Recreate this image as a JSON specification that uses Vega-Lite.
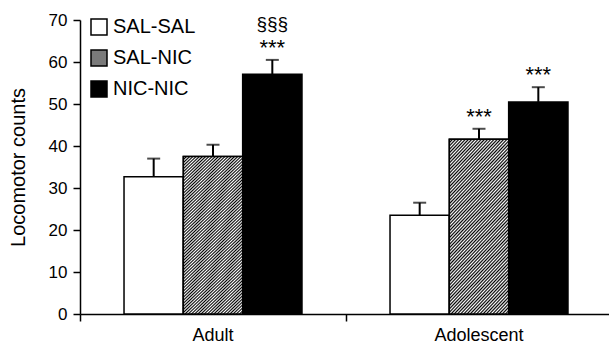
{
  "$schema": "https://vega.github.io/schema/vega-lite/v6.json",
  "width": 532,
  "height": 294,
  "autosize": {"type": "none"},
  "padding": {"left": 80, "top": 20, "right": 0, "bottom": 34},
  "config": {
    "view": {"stroke": null},
    "font": "Liberation Sans",
    "axis": {"labelColor": "#000", "titleColor": "#000", "domainColor": "#000", "tickColor": "#000", "grid": false, "domainWidth": 1.5, "tickWidth": 1.5},
    "legend": {"labelColor": "#000"}
  },
  "data": {
    "values": [
      {"age": "Adult", "group": "SAL-SAL", "value": 32.7, "upper": 37.0, "sig": "", "sig2": ""},
      {"age": "Adult", "group": "SAL-NIC", "value": 37.5, "upper": 40.3, "sig": "", "sig2": ""},
      {"age": "Adult", "group": "NIC-NIC", "value": 57.1, "upper": 60.5, "sig": "***", "sig2": "§§§"},
      {"age": "Adolescent", "group": "SAL-SAL", "value": 23.5, "upper": 26.5, "sig": "", "sig2": ""},
      {"age": "Adolescent", "group": "SAL-NIC", "value": 41.6, "upper": 44.1, "sig": "***", "sig2": ""},
      {"age": "Adolescent", "group": "NIC-NIC", "value": 50.5, "upper": 54.0, "sig": "***", "sig2": ""}
    ]
  },
  "encoding": {
    "x": {
      "field": "age", "type": "nominal", "sort": ["Adult", "Adolescent"],
      "scale": {"paddingInner": 0.331, "paddingOuter": 0.1655},
      "axis": {"title": null, "labelAngle": 0, "labelFontSize": 18, "tickSize": 7, "labelPadding": 5, "bandPosition": -0.247}
    },
    "xOffset": {"field": "group", "type": "nominal", "sort": ["SAL-SAL", "SAL-NIC", "NIC-NIC"], "scale": {"paddingInner": 0, "paddingOuter": 0}}
  },
  "layer": [
    {
      "mark": {"type": "rule", "stroke": "#000", "strokeWidth": 2},
      "encoding": {
        "y": {"field": "value", "type": "quantitative"},
        "y2": {"field": "upper"}
      }
    },
    {
      "mark": {"type": "tick", "orient": "horizontal", "color": "#000", "size": 13, "thickness": 2},
      "encoding": {
        "y": {"field": "upper", "type": "quantitative"}
      }
    },
    {
      "mark": {"type": "bar", "stroke": "#000", "strokeWidth": 1.5},
      "encoding": {
        "y": {
          "field": "value", "type": "quantitative",
          "scale": {"domain": [0, 70], "nice": false},
          "axis": {"values": [0, 10, 20, 30, 40, 50, 60, 70], "title": "Locomotor counts", "titleFontSize": 20, "titleFontWeight": "normal", "titlePadding": 20, "labelFontSize": 17, "tickSize": 7, "labelPadding": 6}
        },
        "fill": {
          "field": "group", "type": "nominal",
          "sort": ["SAL-SAL", "SAL-NIC", "NIC-NIC"],
          "scale": {"domain": ["SAL-SAL", "SAL-NIC", "NIC-NIC"], "range": ["#ffffff", "#7a7a7a", "#000000"]},
          "legend": {
            "title": null, "orient": "none", "legendX": 9, "legendY": -3,
            "symbolType": "square", "symbolSize": 256, "symbolStrokeColor": "#000", "symbolStrokeWidth": 1.5,
            "labelFontSize": 20, "labelOffset": 4, "rowPadding": 9
          }
        }
      }
    },
    {
      "transform": [{"filter": "datum.group == 'SAL-NIC'"}],
      "mark": {"type": "bar", "stroke": "#000", "strokeWidth": 1.5,
        "fill": {"gradient": "linear", "x1": 0, "y1": 0, "x2": 0.433, "y2": 1.204, "stops": [
          {"offset": 0, "color": "#000"}, {"offset": 0.0071, "color": "#fff"}, {"offset": 0.0143, "color": "#000"}, {"offset": 0.0214, "color": "#fff"}, {"offset": 0.0286, "color": "#000"}, {"offset": 0.0357, "color": "#fff"}, {"offset": 0.0429, "color": "#000"}, {"offset": 0.05, "color": "#fff"}, {"offset": 0.0571, "color": "#000"}, {"offset": 0.0643, "color": "#fff"}, {"offset": 0.0714, "color": "#000"}, {"offset": 0.0786, "color": "#fff"}, {"offset": 0.0857, "color": "#000"}, {"offset": 0.0929, "color": "#fff"},
          {"offset": 0.1, "color": "#000"}, {"offset": 0.1071, "color": "#fff"}, {"offset": 0.1143, "color": "#000"}, {"offset": 0.1214, "color": "#fff"}, {"offset": 0.1286, "color": "#000"}, {"offset": 0.1357, "color": "#fff"}, {"offset": 0.1429, "color": "#000"}, {"offset": 0.15, "color": "#fff"}, {"offset": 0.1571, "color": "#000"}, {"offset": 0.1643, "color": "#fff"}, {"offset": 0.1714, "color": "#000"}, {"offset": 0.1786, "color": "#fff"}, {"offset": 0.1857, "color": "#000"}, {"offset": 0.1929, "color": "#fff"},
          {"offset": 0.2, "color": "#000"}, {"offset": 0.2071, "color": "#fff"}, {"offset": 0.2143, "color": "#000"}, {"offset": 0.2214, "color": "#fff"}, {"offset": 0.2286, "color": "#000"}, {"offset": 0.2357, "color": "#fff"}, {"offset": 0.2429, "color": "#000"}, {"offset": 0.25, "color": "#fff"}, {"offset": 0.2571, "color": "#000"}, {"offset": 0.2643, "color": "#fff"}, {"offset": 0.2714, "color": "#000"}, {"offset": 0.2786, "color": "#fff"}, {"offset": 0.2857, "color": "#000"}, {"offset": 0.2929, "color": "#fff"},
          {"offset": 0.3, "color": "#000"}, {"offset": 0.3071, "color": "#fff"}, {"offset": 0.3143, "color": "#000"}, {"offset": 0.3214, "color": "#fff"}, {"offset": 0.3286, "color": "#000"}, {"offset": 0.3357, "color": "#fff"}, {"offset": 0.3429, "color": "#000"}, {"offset": 0.35, "color": "#fff"}, {"offset": 0.3571, "color": "#000"}, {"offset": 0.3643, "color": "#fff"}, {"offset": 0.3714, "color": "#000"}, {"offset": 0.3786, "color": "#fff"}, {"offset": 0.3857, "color": "#000"}, {"offset": 0.3929, "color": "#fff"},
          {"offset": 0.4, "color": "#000"}, {"offset": 0.4071, "color": "#fff"}, {"offset": 0.4143, "color": "#000"}, {"offset": 0.4214, "color": "#fff"}, {"offset": 0.4286, "color": "#000"}, {"offset": 0.4357, "color": "#fff"}, {"offset": 0.4429, "color": "#000"}, {"offset": 0.45, "color": "#fff"}, {"offset": 0.4571, "color": "#000"}, {"offset": 0.4643, "color": "#fff"}, {"offset": 0.4714, "color": "#000"}, {"offset": 0.4786, "color": "#fff"}, {"offset": 0.4857, "color": "#000"}, {"offset": 0.4929, "color": "#fff"},
          {"offset": 0.5, "color": "#000"}, {"offset": 0.5071, "color": "#fff"}, {"offset": 0.5143, "color": "#000"}, {"offset": 0.5214, "color": "#fff"}, {"offset": 0.5286, "color": "#000"}, {"offset": 0.5357, "color": "#fff"}, {"offset": 0.5429, "color": "#000"}, {"offset": 0.55, "color": "#fff"}, {"offset": 0.5571, "color": "#000"}, {"offset": 0.5643, "color": "#fff"}, {"offset": 0.5714, "color": "#000"}, {"offset": 0.5786, "color": "#fff"}, {"offset": 0.5857, "color": "#000"}, {"offset": 0.5929, "color": "#fff"},
          {"offset": 0.6, "color": "#000"}, {"offset": 0.6071, "color": "#fff"}, {"offset": 0.6143, "color": "#000"}, {"offset": 0.6214, "color": "#fff"}, {"offset": 0.6286, "color": "#000"}, {"offset": 0.6357, "color": "#fff"}, {"offset": 0.6429, "color": "#000"}, {"offset": 0.65, "color": "#fff"}, {"offset": 0.6571, "color": "#000"}, {"offset": 0.6643, "color": "#fff"}, {"offset": 0.6714, "color": "#000"}, {"offset": 0.6786, "color": "#fff"}, {"offset": 0.6857, "color": "#000"}, {"offset": 0.6929, "color": "#fff"},
          {"offset": 0.7, "color": "#000"}, {"offset": 0.7071, "color": "#fff"}, {"offset": 0.7143, "color": "#000"}, {"offset": 0.7214, "color": "#fff"}, {"offset": 0.7286, "color": "#000"}, {"offset": 0.7357, "color": "#fff"}, {"offset": 0.7429, "color": "#000"}, {"offset": 0.75, "color": "#fff"}, {"offset": 0.7571, "color": "#000"}, {"offset": 0.7643, "color": "#fff"}, {"offset": 0.7714, "color": "#000"}, {"offset": 0.7786, "color": "#fff"}, {"offset": 0.7857, "color": "#000"}, {"offset": 0.7929, "color": "#fff"},
          {"offset": 0.8, "color": "#000"}, {"offset": 0.8071, "color": "#fff"}, {"offset": 0.8143, "color": "#000"}, {"offset": 0.8214, "color": "#fff"}, {"offset": 0.8286, "color": "#000"}, {"offset": 0.8357, "color": "#fff"}, {"offset": 0.8429, "color": "#000"}, {"offset": 0.85, "color": "#fff"}, {"offset": 0.8571, "color": "#000"}, {"offset": 0.8643, "color": "#fff"}, {"offset": 0.8714, "color": "#000"}, {"offset": 0.8786, "color": "#fff"}, {"offset": 0.8857, "color": "#000"}, {"offset": 0.8929, "color": "#fff"},
          {"offset": 0.9, "color": "#000"}, {"offset": 0.9071, "color": "#fff"}, {"offset": 0.9143, "color": "#000"}, {"offset": 0.9214, "color": "#fff"}, {"offset": 0.9286, "color": "#000"}, {"offset": 0.9357, "color": "#fff"}, {"offset": 0.9429, "color": "#000"}, {"offset": 0.95, "color": "#fff"}, {"offset": 0.9571, "color": "#000"}, {"offset": 0.9643, "color": "#fff"}, {"offset": 0.9714, "color": "#000"}, {"offset": 0.9786, "color": "#fff"}, {"offset": 0.9857, "color": "#000"}, {"offset": 0.9929, "color": "#fff"},
          {"offset": 1, "color": "#000"}
        ]}
      },
      "encoding": {
        "y": {"field": "value", "type": "quantitative"}
      }
    },
    {
      "transform": [{"filter": "datum.sig != ''"}],
      "mark": {"type": "text", "fontSize": 22, "color": "#000", "baseline": "alphabetic", "dy": -5},
      "encoding": {
        "y": {"field": "upper", "type": "quantitative"},
        "text": {"field": "sig"}
      }
    },
    {
      "transform": [{"filter": "datum.sig2 != ''"}],
      "mark": {"type": "text", "fontSize": 19, "color": "#000", "baseline": "alphabetic", "dy": -30},
      "encoding": {
        "y": {"field": "upper", "type": "quantitative"},
        "text": {"field": "sig2"}
      }
    }
  ]
}
